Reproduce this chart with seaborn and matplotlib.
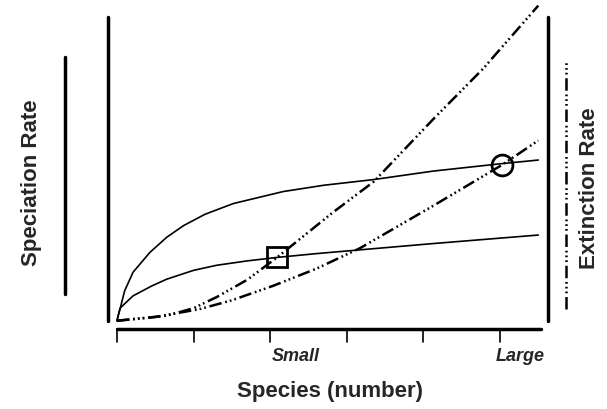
import matplotlib
matplotlib.use('Agg')
import matplotlib.pyplot as plt
import seaborn as sns

sns.set_style('white')
plt.rcParams['font.family'] = ['Liberation Sans', 'DejaVu Sans']

# species number (tick units) and rates (arbitrary units)
hi_sp_x = [0, 0.02, 0.04, 0.1, 0.21, 0.43, 0.65, 0.87, 1.15, 1.52, 2.17, 2.7, 3.35, 4.13, 5.0, 5.5]
hi_sp_y = [0, 0.2, 0.37, 0.95, 1.54, 2.17, 2.65, 3.02, 3.38, 3.72, 4.1, 4.3, 4.48, 4.75, 4.98, 5.1]
lo_sp_x = [0, 0.04, 0.21, 0.45, 0.65, 1.0, 1.3, 1.7, 2.09, 2.6, 3.17, 4.13, 5.5]
lo_sp_y = [0, 0.4, 0.79, 1.1, 1.32, 1.6, 1.76, 1.9, 2.01, 2.13, 2.25, 2.45, 2.72]
hi_ex_x = [0, 0.65, 1.0, 1.3, 1.7, 2.09, 2.82, 3.35, 4.13, 4.78, 5.5]
hi_ex_y = [0, 0.16, 0.4, 0.75, 1.3, 2.01, 3.44, 4.41, 6.4, 8.0, 10.0]
lo_ex_x = [0, 0.5, 1.08, 1.5, 2.04, 2.6, 3.17, 4.13, 5.03, 5.5]
lo_ex_y = [0, 0.12, 0.37, 0.65, 1.11, 1.65, 2.3, 3.65, 4.95, 5.72]
ticks = [0, 1, 2, 3, 4, 5]
equilibria = {'Small': (2.09, 2.01, 's'), 'Large': (5.03, 4.95, 'o')}

dd = (0, (5, 1.5, 0.7, 1.2, 0.7, 1.2, 0.7, 1.5))

fig = plt.figure(figsize=(6.07, 4.10), dpi=100)
ax = fig.add_axes([0, 0, 1, 1])
ax.set_xlim(-1.527, 6.397)
ax.set_ylim(-2.80, 10.21)
ax.axis('off')

for xs, ys in [(hi_sp_x, hi_sp_y), (lo_sp_x, lo_sp_y)]:
    sns.lineplot(x=xs, y=ys, ax=ax, color='black', lw=1.2, sort=False)
for xs, ys in [(hi_ex_x, hi_ex_y), (lo_ex_x, lo_ex_y)]:
    sns.lineplot(x=xs, y=ys, ax=ax, color='black', lw=1.8, linestyle=dd, sort=False)

for name, (x, y, m) in equilibria.items():
    ax.plot(x, y, marker=m, ms=15, mfc='none', mec='black', mew=2)

# axes frame
ax.plot([-0.117, -0.117], [0, 9.64], color='black', lw=2.5)
ax.plot([5.63, 5.63], [0, 9.64], color='black', lw=2.5)
ax.plot([0, 5.53], [-0.25, -0.25], color='black', lw=2.5)
for t in ticks:
    ax.plot([t, t], [-0.25, -0.66], color='black', lw=1.2)

# legend bars
ax.plot([-0.68, -0.68], [0.85, 8.38], color='black', lw=2.5)
ax.plot([5.86, 5.86], [0.38, 8.3], color='black', lw=1.8, linestyle=dd)

ax.text(-1.12, 4.4, 'Speciation Rate', rotation=90, ha='center', va='center',
        fontsize=16, fontweight='bold')
ax.text(6.17, 4.25, 'Extinction Rate', rotation=90, ha='center', va='center',
        fontsize=16, fontweight='bold')
ax.text(2.33, -1.1, 'Small', ha='center', va='center', fontsize=13,
        fontweight='bold', style='italic')
ax.text(5.27, -1.1, 'Large', ha='center', va='center', fontsize=13,
        fontweight='bold', style='italic')
ax.text(2.78, -2.22, 'Species (number)', ha='center', va='center', fontsize=16,
        fontweight='bold')

fig.savefig('out.png', dpi=100)
